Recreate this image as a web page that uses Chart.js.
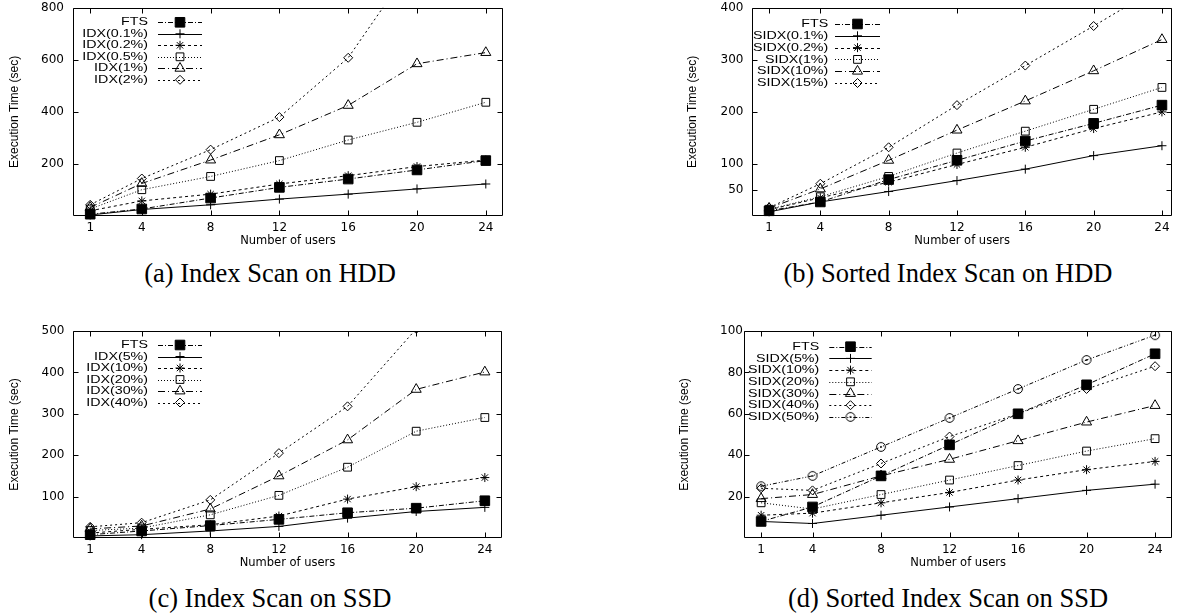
<!DOCTYPE html>
<html><head><meta charset="utf-8">
<script src="https://cdn.jsdelivr.net/npm/chart.js@4.4.1/dist/chart.umd.min.js"></script>
<style>
html,body{margin:0;padding:0;background:#fff;}
#page{position:relative;width:1180px;height:613px;overflow:hidden;background:#fff;}
canvas{position:absolute;}
.cap{position:absolute;font-family:"Liberation Serif","Times New Roman",serif;font-size:26.5px;line-height:1;color:#000;white-space:nowrap;transform:translateX(-50%);}
</style></head><body>
<div id="page">
<canvas id="ca" width="520" height="252" style="left:0px;top:0px"></canvas>
<canvas id="cb" width="580" height="252" style="left:600px;top:0px"></canvas>
<canvas id="cc" width="520" height="274" style="left:0px;top:300px"></canvas>
<canvas id="cd" width="580" height="274" style="left:600px;top:300px"></canvas>
<div class="cap" style="left:270px;top:260px">(a) Index Scan on HDD</div>
<div class="cap" style="left:948px;top:260px">(b) Sorted Index Scan on HDD</div>
<div class="cap" style="left:270px;top:585px">(c) Index Scan on SSD</div>
<div class="cap" style="left:948px;top:585px">(d) Sorted Index Scan on SSD</div>
</div>
<script>
// ---------- data ----------
const users = [1, 4, 8, 12, 16, 20, 24];
const xTicks = [1, 4, 8, 12, 16, 20, 24];

// (a) Index Scan on HDD
const aLabels = ['FTS', 'IDX(0.1%)', 'IDX(0.2%)', 'IDX(0.5%)', 'IDX(1%)', 'IDX(2%)'];
const aFTS    = [7, 27, 69, 110, 142, 177, 213];
const aIDX01  = [4, 25, 43, 65, 84, 104, 123];
const aIDX02  = [20, 58, 84, 123, 155, 190, 215];
const aIDX05  = [27, 101, 152, 213, 292, 360, 437];
const aIDX1   = [33, 125, 215, 312, 425, 585, 628];
const aIDX2   = [43, 144, 255, 380, 608, 990, 1400];
const aYTicks = [200, 400, 600, 800];

// (b) Sorted Index Scan on HDD
const bLabels = ['FTS', 'SIDX(0.1%)', 'SIDX(0.2%)', 'SIDX(1%)', 'SIDX(10%)', 'SIDX(15%)'];
const bFTS    = [10, 27, 70, 107, 144, 178, 213];
const bSIDX01 = [8, 27, 47, 68, 90, 116, 135];
const bSIDX02 = [12, 35, 65, 99, 132, 168, 200];
const bSIDX1  = [13, 37, 76, 121, 163, 205, 247];
const bSIDX10 = [15, 52, 107, 165, 221, 279, 339];
const bSIDX15 = [16, 62, 132, 213, 289, 365, 443];
const bYTicks = [50, 100, 200, 300, 400];

// (c) Index Scan on SSD
const cLabels = ['FTS', 'IDX(5%)', 'IDX(10%)', 'IDX(20%)', 'IDX(30%)', 'IDX(40%)'];
const cFTS    = [8, 17, 30, 45, 61, 72, 90];
const cIDX5   = [5, 8, 17, 28, 48, 64, 74];
const cIDX10  = [12, 21, 32, 53, 94, 124, 146];
const cIDX20  = [18, 24, 56, 103, 171, 258, 291];
const cIDX30  = [22, 29, 70, 150, 237, 359, 401];
const cIDX40  = [27, 37, 92, 205, 318, 505, 700];
const cYTicks = [100, 200, 300, 400, 500];

// (d) Sorted Index Scan on SSD
const dLabels = ['FTS', 'SIDX(5%)', 'SIDX(10%)', 'SIDX(20%)', 'SIDX(30%)', 'SIDX(40%)', 'SIDX(50%)'];
const dFTS    = [8, 15, 30, 45, 60, 74, 89];
const dSIDX5  = [8, 7, 11, 15, 19, 23, 26];
const dSIDX10 = [11, 12, 17, 22, 28, 33, 37];
const dSIDX20 = [17, 14, 21, 28, 35, 42, 48];
const dSIDX30 = [19, 21, 30, 38, 47, 56, 64];
const dSIDX40 = [24, 23, 36, 49, 60, 72, 83];
const dSIDX50 = [25, 30, 44, 58, 72, 86, 98];
const dYTicks = [20, 40, 60, 80, 100];

// ---------- styles ----------
function circleDot() {
  const c = document.createElement('canvas');
  c.width = 12; c.height = 12;
  const g = c.getContext('2d');
  g.strokeStyle = '#000'; g.lineWidth = 1;
  g.beginPath(); g.arc(6, 6, 4.4, 0, Math.PI * 2); g.stroke();
  g.fillStyle = '#000';
  g.beginPath(); g.arc(6, 6, 0.9, 0, Math.PI * 2); g.fill();
  return c;
}
const CIRCLE_DOT = circleDot();
const LINE_DASH = [[5, 2, 1, 2], [], [3, 3], [1, 2], [7, 3, 1, 3], [2, 3], [4, 2, 1, 2, 1, 2]];
const POINT_STYLE = ['rect', 'cross', 'star', 'rect', 'triangle', 'rectRot', CIRCLE_DOT];
const POINT_R = [6.8, 4.5, 4.5, 5.5, 5.8, 4.5, 4.5];

function makeDatasets(labels, series) {
  return series.map((vals, i) => ({
    label: labels[i],
    data: users.map((u, j) => ({ x: u, y: vals[j] })),
    borderColor: '#000',
    borderWidth: 1,
    borderDash: LINE_DASH[i],
    fill: false,
    tension: 0,
    pointStyle: POINT_STYLE[i],
    pointRadius: POINT_R[i],
    pointBorderColor: '#000',
    pointBorderWidth: 1,
    pointBackgroundColor: i === 0 ? '#000' : 'rgba(0,0,0,0)',
    clip: { left: 10, right: 10, top: 0, bottom: 10 }
  }));
}

const framePlugin = {
  id: 'gpFrame',
  beforeDatasetsDraw(chart) {
    const { ctx, chartArea: a } = chart;
    const xs = chart.scales.x, ys = chart.scales.y;
    const L = 5;
    const l = Math.round(a.left) + 0.5, r = Math.round(a.right) - 0.5;
    const t = Math.round(a.top) + 0.5, b = Math.round(a.bottom) - 0.5;
    ctx.save();
    ctx.strokeStyle = '#000'; ctx.lineWidth = 1; ctx.setLineDash([]);
    ctx.beginPath();
    ctx.rect(l, t, r - l, b - t);
    xs.ticks.forEach(tk => {
      const p = Math.round(xs.getPixelForValue(tk.value)) + 0.5;
      ctx.moveTo(p, b); ctx.lineTo(p, b - L);
      ctx.moveTo(p, t); ctx.lineTo(p, t + L);
    });
    ys.ticks.forEach(tk => {
      const p = Math.round(ys.getPixelForValue(tk.value)) + 0.5;
      ctx.moveTo(l, p); ctx.lineTo(l + L, p);
      ctx.moveTo(r, p); ctx.lineTo(r - L, p);
    });
    ctx.stroke();
    ctx.restore();
  }
};

const legendPlugin = {
  id: 'gpLegend',
  afterDatasetsDraw(chart, args, o) {
    if (!o || o.textRight === undefined) return;
    const ctx = chart.ctx;
    chart.data.datasets.forEach((ds, i) => {
      const y = o.y0 + i * o.dy;
      ctx.save();
      ctx.font = '11.5px "Liberation Sans", Arial, sans-serif';
      ctx.fillStyle = '#000'; ctx.textAlign = 'right'; ctx.textBaseline = 'middle';
      ctx.translate(o.textRight, y); ctx.scale(o.sx, 1);
      ctx.fillText(ds.label, 0, 0);
      ctx.restore();
      ctx.save();
      ctx.strokeStyle = '#000'; ctx.lineWidth = 1; ctx.setLineDash(ds.borderDash);
      const yy = Math.round(y) + 0.5;
      ctx.beginPath(); ctx.moveTo(o.x0, yy); ctx.lineTo(o.x1, yy); ctx.stroke();
      ctx.setLineDash([]);
      ctx.fillStyle = ds.pointBackgroundColor; ctx.strokeStyle = '#000'; ctx.lineWidth = 1;
      Chart.helpers.drawPoint(ctx, { pointStyle: ds.pointStyle, radius: ds.pointRadius, rotation: 0, borderWidth: 1 }, (o.x0 + o.x1) / 2, y);
      ctx.restore();
    });
  }
};

const TICK_FONT = { family: '"DejaVu Sans", sans-serif', size: 12 };
const XT_FONT = { family: '"DejaVu Sans", sans-serif', size: 11.5 };
const YT_FONT = { family: '"Liberation Sans", Arial, sans-serif', size: 12 };

function makeChart(id, datasets, cfg) {
  return new Chart(document.getElementById(id), {
    type: 'line',
    data: { datasets },
    options: {
      responsive: false, animation: false, events: [],
      layout: { padding: { left: 0, top: cfg.top, right: cfg.right, bottom: 0 } },
      plugins: { legend: { display: false }, tooltip: { enabled: false }, gpLegend: cfg.legend },
      scales: {
        x: {
          type: 'linear', min: 0, max: cfg.xmax,
          afterBuildTicks: s => { s.ticks = xTicks.map(v => ({ value: v })); },
          afterFit: s => { s.height = cfg.xh; s.paddingLeft = 0; s.paddingRight = 0; },
          grid: { display: false, drawTicks: false }, border: { display: false },
          ticks: { font: TICK_FONT, color: '#000', padding: 5, maxRotation: 0, autoSkip: false },
          title: { display: true, text: 'Number of users', font: XT_FONT, color: '#000', padding: { top: 0, bottom: cfg.xtpad } }
        },
        y: {
          type: 'linear', min: 0, max: cfg.ymax,
          afterBuildTicks: s => { s.ticks = cfg.yticks.map(v => ({ value: v })); },
          afterFit: s => { s.width = cfg.yw; s.paddingTop = 0; s.paddingBottom = 0; },
          grid: { display: false, drawTicks: false }, border: { display: false },
          ticks: { font: TICK_FONT, color: '#000', padding: cfg.ypad },
          title: { display: true, text: 'Execution Time (sec)', font: YT_FONT, color: '#000', padding: { top: cfg.ytpad, bottom: 0 } }
        }
      }
    },
    plugins: [framePlugin, legendPlugin]
  });
}

makeChart('ca', makeDatasets(aLabels, [aFTS, aIDX01, aIDX02, aIDX05, aIDX1, aIDX2]), {
  top: 7, right: 17, xh: 36, yw: 73, xmax: 25, ymax: 800, yticks: aYTicks, ypad: 9, ytpad: 7.8, xtpad: 4,
  legend: { textRight: 148, x0: 158, x1: 202, y0: 22.3, dy: 11.5, sx: 1.24 }
});
makeChart('cb', makeDatasets(bLabels, [bFTS, bSIDX01, bSIDX02, bSIDX1, bSIDX10, bSIDX15]), {
  top: 7, right: 7, xh: 36, yw: 152, xmax: 24.6, ymax: 400, yticks: bYTicks, ypad: 8.5, ytpad: 85.8, xtpad: 4,
  legend: { textRight: 228.3, x0: 235, x1: 280, y0: 24, dy: 11.8, sx: 1.24 }
});
makeChart('cc', makeDatasets(cLabels, [cFTS, cIDX5, cIDX10, cIDX20, cIDX30, cIDX40]), {
  top: 31, right: 18, xh: 36, yw: 73, xmax: 25, ymax: 500, yticks: cYTicks, ypad: 8.5, ytpad: 7.8, xtpad: 4,
  legend: { textRight: 148, x0: 158, x1: 202, y0: 45, dy: 11.5, sx: 1.24 }
});
makeChart('cd', makeDatasets(dLabels, [dFTS, dSIDX5, dSIDX10, dSIDX20, dSIDX30, dSIDX40, dSIDX50]), {
  top: 31, right: 7, xh: 36, yw: 144, xmax: 25, ymax: 100, yticks: dYTicks, ypad: 1, ytpad: 77.8, xtpad: 4,
  legend: { textRight: 219.3, x0: 229.3, x1: 271.7, y0: 46.7, dy: 11.7, sx: 1.24 }
});
</script>
</body></html>
